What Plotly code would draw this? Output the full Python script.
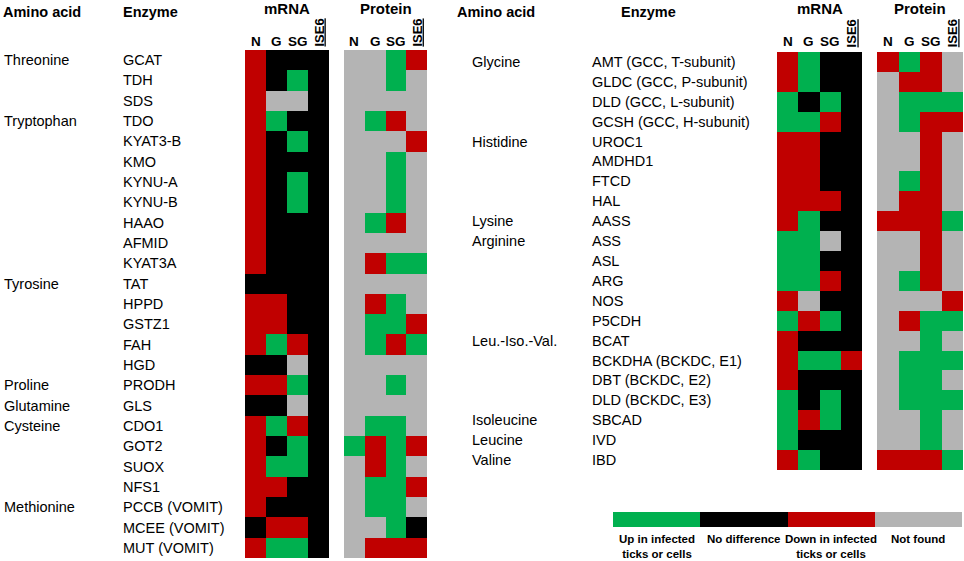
import plotly.graph_objects as go

W, H = 964, 561
FONT = "Liberation Sans, Arial, sans-serif"

# codes: u = up in infected (green), n = no difference (black), d = down (red), x = not found (gray)
columns = ["N", "G", "SG", "ISE6"]

left_enzymes = ["GCAT", "TDH", "SDS", "TDO", "KYAT3-B", "KMO", "KYNU-A", "KYNU-B", "HAAO",
                "AFMID", "KYAT3A", "TAT", "HPPD", "GSTZ1", "FAH", "HGD", "PRODH", "GLS",
                "CDO1", "GOT2", "SUOX", "NFS1", "PCCB (VOMIT)", "MCEE (VOMIT)", "MUT (VOMIT)"]
left_amino = ["Threonine", "", "", "Tryptophan", "", "", "", "", "", "", "", "Tyrosine", "", "",
              "", "", "Proline", "Glutamine", "Cysteine", "", "", "", "Methionine", "", ""]
left_mrna = ["dnnn", "dnun", "dxxn", "dunn", "dnun", "dnnn", "dnun", "dnun", "dnnn", "dnnn",
             "dnnn", "nnnn", "ddnn", "ddnn", "dudn", "nnxn", "ddun", "nnxn", "dudn", "dnun",
             "duun", "ddnn", "dnnn", "nddn", "duun"]
left_protein = ["xxud", "xxux", "xxxx", "xudx", "xxxd", "xxux", "xxux", "xxux", "xudx", "xxxx",
                "xduu", "xxxx", "xdux", "xuud", "xudu", "xxxx", "xxux", "xxxx", "xuux", "udud",
                "xdux", "xuud", "xuux", "xxun", "xddd"]

right_enzymes = ["AMT (GCC, T-subunit)", "GLDC (GCC, P-subunit)", "DLD (GCC, L-subunit)",
                 "GCSH (GCC, H-subunit)", "UROC1", "AMDHD1", "FTCD", "HAL", "AASS", "ASS", "ASL",
                 "ARG", "NOS", "P5CDH", "BCAT", "BCKDHA (BCKDC, E1)", "DBT (BCKDC, E2)",
                 "DLD (BCKDC, E3)", "SBCAD", "IVD", "IBD"]
right_amino = ["Glycine", "", "", "", "Histidine", "", "", "", "Lysine", "Arginine", "", "", "",
               "", "Leu.-Iso.-Val.", "", "", "", "Isoleucine", "Leucine", "Valine"]
right_mrna = ["dunn", "dunn", "unun", "uudn", "ddnn", "ddnn", "ddnn", "dddn", "dunn", "uuxn",
              "uunn", "uudn", "dxnn", "udun", "dnnn", "duud", "dnnn", "unun", "udun", "unnn",
              "dunn"]
right_protein = ["dudx", "xddx", "xuuu", "xudd", "xxdx", "xxdx", "xudx", "xddx", "dddu", "xxdx",
                 "xxdx", "xudx", "xxxd", "xduu", "xxux", "xuuu", "xuux", "xuuu", "xxux", "xxux",
                 "dddu"]

legend_codes = ["u", "n", "d", "x"]
legend_labels = ["Up in infected<br>ticks or cells", "No difference",
                 "Down in infected<br>ticks or cells", "Not found"]

code_value = {"u": 0, "n": 1, "d": 2, "x": 3}
GREEN, BLACK, RED, GRAY = "#00b04f", "#000000", "#c00000", "#b4b4b4"
colorscale = [[0, GREEN], [0.25, GREEN], [0.25, BLACK], [0.5, BLACK],
              [0.5, RED], [0.75, RED], [0.75, GRAY], [1, GRAY]]


def px_x(p):
    return p / W


def px_y(p):
    return 1 - p / H


fig = go.Figure()


def add_heat(rows, xa, ya):
    z = [[code_value[c] for c in r] for r in rows]
    fig.add_trace(go.Heatmap(
        x=list(range(len(columns))), y=list(range(len(rows))), z=z,
        xaxis=xa, yaxis=ya, colorscale=colorscale, zmin=0, zmax=3,
        showscale=False, hoverinfo="skip"))


add_heat(left_mrna, "x", "y")
add_heat(left_protein, "x2", "y")
add_heat(right_mrna, "x3", "y2")
add_heat(right_protein, "x4", "y2")
fig.add_trace(go.Heatmap(
    x=list(range(len(legend_codes))), y=[0], z=[[code_value[c] for c in legend_codes]],
    xaxis="x5", yaxis="y3", colorscale=colorscale, zmin=0, zmax=3,
    showscale=False, hoverinfo="skip"))

hidden = dict(visible=False, fixedrange=True)
n_left, n_right = len(left_enzymes), len(right_enzymes)
fig.update_layout(
    width=W, height=H, margin=dict(l=0, r=0, t=0, b=0),
    paper_bgcolor="white", plot_bgcolor="white", showlegend=False,
    font=dict(family=FONT, size=13, color="black"),
    xaxis=dict(domain=[px_x(245), px_x(329)], range=[-0.5, 3.5], anchor="y", **hidden),
    xaxis2=dict(domain=[px_x(344), px_x(427)], range=[-0.5, 3.5], anchor="y", **hidden),
    xaxis3=dict(domain=[px_x(777), px_x(862)], range=[-0.5, 3.5], anchor="y2", **hidden),
    xaxis4=dict(domain=[px_x(877), px_x(963)], range=[-0.5, 3.5], anchor="y2", **hidden),
    xaxis5=dict(domain=[px_x(613), px_x(962)], range=[-0.5, 3.5], anchor="y3", **hidden),
    yaxis=dict(domain=[px_y(558), px_y(50)], range=[n_left - 0.5, -0.5], anchor="x", **hidden),
    yaxis2=dict(domain=[px_y(470), px_y(52)], range=[n_right - 0.5, -0.5], anchor="x3", **hidden),
    yaxis3=dict(domain=[px_y(527), px_y(512)], range=[-0.5, 0.5], anchor="x5", **hidden),
)

ann = []


def text(x, y, s, xref="paper", yref="paper", size=14.5, bold=False, xanchor="left",
         yanchor="middle", angle=0):
    ann.append(dict(x=x, y=y, xref=xref, yref=yref, text=f"<b>{s}</b>" if bold else s,
                    showarrow=False, xanchor=xanchor, yanchor=yanchor, textangle=angle,
                    font=dict(family=FONT, size=size, color="black")))


# row labels
for i, (e, a) in enumerate(zip(left_enzymes, left_amino)):
    text(px_x(121), i, e, yref="y")
    if a:
        text(px_x(2), i, a, yref="y")
for i, (e, a) in enumerate(zip(right_enzymes, right_amino)):
    text(px_x(590), i, e, yref="y2")
    if a:
        text(px_x(470), i, a, yref="y2")

# headers
text(px_x(1), px_y(12), "Amino acid", size=14.5, bold=True)
text(px_x(121), px_y(12), "Enzyme", size=14.5, bold=True)
text(px_x(455), px_y(12), "Amino acid", size=14.5, bold=True)
text(px_x(619), px_y(12), "Enzyme", size=14.5, bold=True)
for xr, title in [("x", "mRNA"), ("x2", "Protein"), ("x3", "mRNA"), ("x4", "Protein")]:
    text(1.5, px_y(9), title, xref=xr, size=15, bold=True, xanchor="center")
    for j, c in enumerate(columns):
        if c == "ISE6":
            text(j, px_y(33), f"<u>{c}</u>", xref=xr, size=13, bold=True, xanchor="center",
                 angle=-90)
        else:
            text(j, px_y(41), c, xref=xr, size=13.5, bold=True, xanchor="center")

# legend labels
for j, lab in enumerate(legend_labels):
    text(j, px_y(531), lab, xref="x5", size=11.5, bold=True, xanchor="center", yanchor="top")

fig.update_layout(annotations=ann)
fig.write_html("out.html", config={"displayModeBar": False},
               post_script="document.body.style.margin='0px';document.body.style.overflow='hidden';")
